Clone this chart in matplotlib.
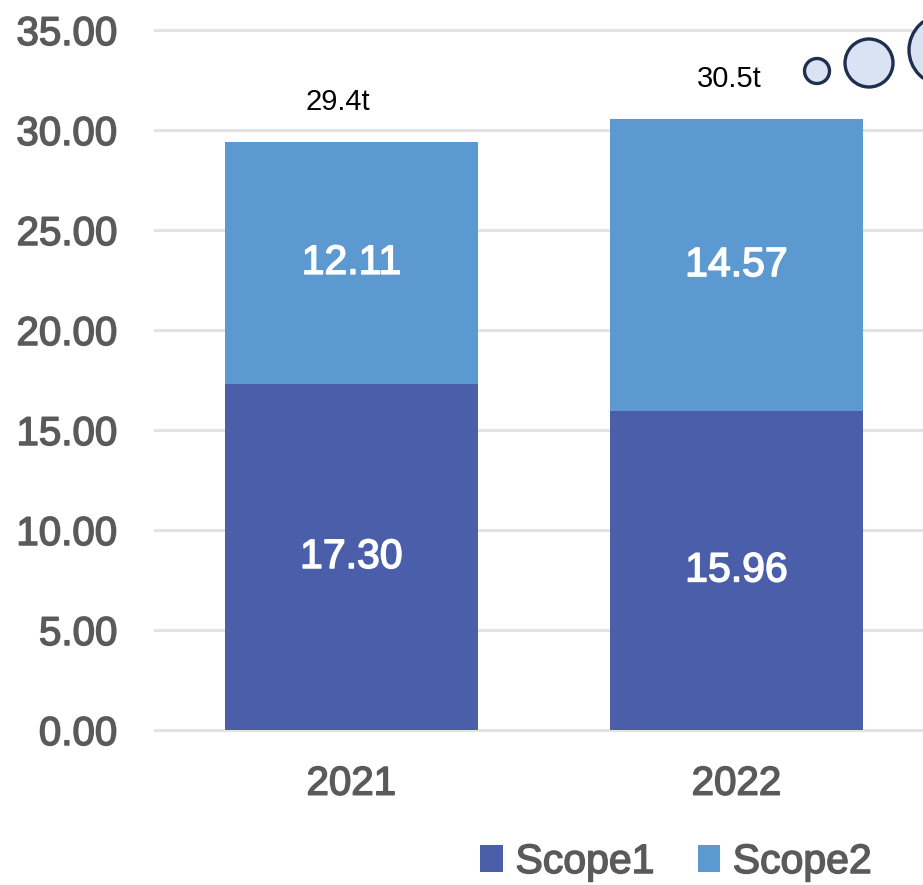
import matplotlib
matplotlib.use("Agg")
import matplotlib.pyplot as plt
import matplotlib.patheffects as pe
from matplotlib.patches import Patch, Ellipse

# Emissions by year (t-CO2)
years = ["2021", "2022"]
scope1 = [17.30, 15.96]
scope2 = [12.11, 14.57]
y_ticks = [0, 5, 10, 15, 20, 25, 30, 35]
series_names = ["Scope1", "Scope2"]

color_s1 = "#4a5ea9"
color_s2 = "#5c99d1"
grid_color = "#e3e3e3"
tick_color = "#5a5a5a"
font = "Liberation Sans"

# slightly heavier than regular weight
gray_fx = [pe.withStroke(linewidth=1.1, foreground=tick_color)]
white_fx = [pe.withStroke(linewidth=1.1, foreground="white")]

W, H = 923, 885
fig = plt.figure(figsize=(W / 100, H / 100), dpi=100)
ax = fig.add_axes([155 / W, (H - 730) / H, (W - 155) / W, 700 / H])

x = list(range(len(years)))
bar_w = 0.657
totals = [a + b for a, b in zip(scope1, scope2)]

b1 = ax.bar(x, scope1, width=bar_w, color=color_s1, zorder=3)
b2 = ax.bar(x, scope2, width=bar_w, bottom=scope1, color=color_s2, zorder=3)

for bars, vals in [(b1, scope1), (b2, scope2)]:
    for t in ax.bar_label(bars, labels=[f"{v:.2f}" for v in vals], label_type="center",
                          color="white", fontsize=29.5, family=font):
        t.set_path_effects(white_fx)

# stacked totals above each bar
for xi, t, dx in zip(x, totals, [-10, -5]):
    ax.annotate(f"{t:.1f}t", xy=(xi, t), xytext=(dx, 29), textcoords="offset points",
                ha="center", va="center", fontsize=21, family=font, color="black")

ax.set_xlim(-0.51, (W - 351.5) / 385)
ax.set_ylim(0, 35)
ax.set_yticks(y_ticks)
ax.set_yticklabels([f"{v:.2f}" for v in y_ticks], family=font, fontsize=29,
                   color=tick_color)
ax.set_xticks(x)
ax.set_xticklabels(years, family=font, fontsize=29, color=tick_color)
for t in ax.get_yticklabels() + ax.get_xticklabels():
    t.set_path_effects(gray_fx)
ax.tick_params(axis="y", length=0, pad=27)
ax.tick_params(axis="x", length=0, pad=25)
for s in ax.spines.values():
    s.set_visible(False)
ax.yaxis.grid(True, color=grid_color, linewidth=2.2, zorder=0)
for gl in ax.get_ygridlines():
    gl.set_clip_on(False)
ax.set_axisbelow(True)

handles = [Patch(facecolor=color_s1), Patch(facecolor=color_s2)]
leg = fig.legend(handles, series_names, loc="center", bbox_to_anchor=(676 / W, 1 - 862 / H),
                 ncol=2, frameon=False, handlelength=0.56, handleheight=0.63,
                 handletextpad=0.3, columnspacing=1.05,
                 prop={"family": font, "size": 29.5}, labelcolor=tick_color)
for t in leg.get_texts():
    t.set_path_effects(gray_fx)

# decorative bubbles in the top-right corner
for cx, cy, r in [(817, 71, 12.5), (869, 63, 24), (944, 50, 35)]:
    fig.add_artist(Ellipse((cx / W, 1 - cy / H), 2 * r / W, 2 * r / H,
                           transform=fig.transFigure, facecolor="#dae3f3",
                           edgecolor="#1f2f4f", linewidth=2.4, zorder=5))

fig.savefig("out.png", dpi=100)
